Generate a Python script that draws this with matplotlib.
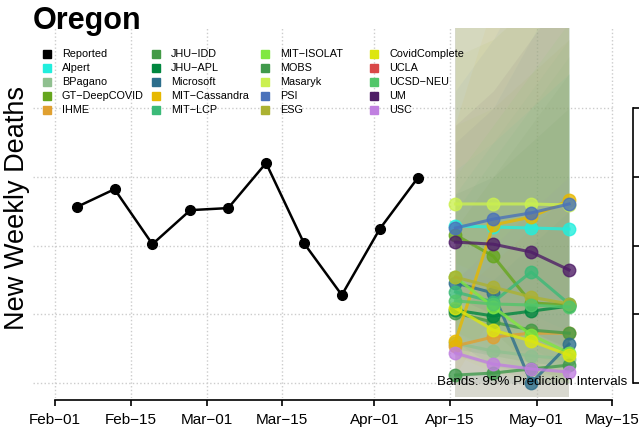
import numpy as np
import pandas as pd
import matplotlib
matplotlib.use('Agg')
import matplotlib.pyplot as plt
import matplotlib.dates as mdates
from matplotlib.lines import Line2D

plt.rcParams['font.family'] = ['Liberation Sans', 'DejaVu Sans']

# reported weekly deaths
rep_dates = pd.date_range('2022-02-05', periods=10, freq='7D')
rep_vals = [51.2, 56.4, 40.4, 50.3, 50.9, 64.0, 40.7, 25.6, 44.8, 59.6]

# forecasts
fc_dates = pd.date_range('2022-04-16', periods=4, freq='7D')
models = ['Alpert', 'BPagano', 'GT-DeepCOVID', 'IHME', 'JHU-IDD', 'JHU-APL',
          'Microsoft', 'MIT-Cassandra', 'MIT-LCP', 'MIT-ISOLAT', 'MOBS',
          'Masaryk', 'PSI', 'ESG', 'CovidComplete', 'UCLA', 'UCSD-NEU', 'UM', 'USC']
colors = ['#22EEDD', '#90C090', '#66A61E', '#E0A030', '#439A46', '#00873F',
          '#2C6E8C', '#E6B800', '#3BBA78', '#80E840', '#409A4C',
          '#CBF050', '#4A72BA', '#ACB232', '#DDE610', '#D94848', '#52C66A', '#4F1E67', '#C080E0']
fc_mid = [
    [45.7, 45.4, 45.1, 44.8],
    [11.6, 9.3, 7.9, 7.0],
    [43.1, 36.9, 23.3, 22.7],
    [10.8, 13.4, 14.5, 14.5],
    [20.4, 17.7, 15.4, 14.5],
    [21.2, 19.5, 20.9, 22.4],
    [29.1, 26.2, 0.0, 11.3],
    [12.2, 46.0, 48.3, 53.2],
    [26.5, 23.6, 32.3, 23.0],
    [30.8, 22.1, 14.0, 8.7],
    [2.3, 2.9, 4.1, 5.2],
    [52.1, 52.1, 52.1, 51.8],
    [45.1, 47.7, 49.5, 52.1],
    [30.8, 27.9, 25.0, 23.0],
    [21.8, 15.4, 12.2, 8.1],
    None,
    [23.9, 23.0, 22.7, 22.1],
    [41.0, 40.4, 38.1, 32.9],
    [8.7, 5.5, 4.1, 3.2],
]
fc_lo = [
    [30, 25, 20, 15], [2, 0, 0, 0], [25, 15, 5, 0], [3, 3, 2, 2],
    [8, 5, 3, 2], [10, 8, 6, 5], [12, 5, 0, 0], [2, 20, 20, 22],
    [12, 8, 10, 5], [15, 8, 3, 0], [0, 0, 0, 0], [35, 30, 25, 20],
    [30, 28, 25, 24], [15, 10, 8, 5], [8, 3, 0, 0], None,
    [10, 8, 6, 5], [25, 20, 15, 10], [0, 0, 0, 0],
]
fc_hi = [
    [62, 70, 80, 90], [30, 40, 50, 60], [95, 100, 110, 120], [25, 35, 45, 55],
    [45, 60, 75, 90], [55, 60, 70, 80], [70, 80, 100, 120], [75, 110, 130, 150],
    [55, 70, 85, 100], [60, 75, 90, 105], [20, 30, 40, 50], [115, 110, 125, 140],
    [85, 100, 120, 140], [75, 80, 90, 100], [120, 130, 150, 180], None,
    [50, 65, 80, 95], [75, 85, 100, 115], [30, 40, 50, 60],
]

xticks = pd.to_datetime(['2022-02-01', '2022-02-15', '2022-03-01', '2022-03-15',
                         '2022-04-01', '2022-04-15', '2022-05-01', '2022-05-15'])
yticks = [0, 20, 40, 60, 80]

W, H = 639, 437
fig = plt.figure(figsize=(W / 100, H / 100), dpi=100)
ax = fig.add_axes([33 / W, 1 - 398 / H, 581 / W, 370 / H])

# bands
ax.fill_between(fc_dates, -4, 110, color='#c4c4b4', alpha=0.5, lw=0, zorder=0.9)
for c, lo, hi in zip(colors, fc_lo, fc_hi):
    if lo is None:
        continue
    ax.fill_between(fc_dates, lo, hi, color=c, alpha=0.055, lw=0, zorder=1)
ax.fill_between(fc_dates, -4, 110, color='#9a9a8a', alpha=0.12, lw=0, zorder=1.1)

ax.plot(rep_dates, rep_vals, color='black', lw=1.8, marker='o', ms=7, zorder=5)

for c, m in zip(colors, fc_mid):
    if m is None:
        continue
    ax.plot(fc_dates, m, color=c, lw=2.2, marker='o', ms=9, alpha=0.8, zorder=4)

d0 = mdates.date2num(pd.Timestamp('2022-02-01'))
ax.set_xlim(d0 - 4.07, d0 + 103.3)
ax.set_ylim(-4.36, 103.3)

ax.set_xticks(xticks)
ax.xaxis.set_major_formatter(mdates.DateFormatter('%b\u2212%d'))
ax.set_yticks(yticks)
ax.grid(True, color='#cccccc', ls=':', lw=1)
ax.set_axisbelow(True)

for s in ['top', 'left']:
    ax.spines[s].set_visible(False)
ax.spines['bottom'].set_position(('outward', 1.5))
ax.spines['bottom'].set_bounds(mdates.date2num(xticks[0]), mdates.date2num(xticks[-1]))
ax.spines['bottom'].set_linewidth(1.2)
ax.spines['right'].set_position(('outward', 19 * 0.72))
ax.spines['right'].set_bounds(0, 80)
ax.spines['right'].set_linewidth(1.2)
ax.yaxis.tick_right()
ax.tick_params(axis='y', right=True, left=False, labelright=False, length=4, width=1.2)
ax.tick_params(axis='x', length=4, width=1.2, labelsize=11, pad=5)

ax.text((627 - 33) / 581, (398 - 385) / 370, 'Bands: 95% Prediction Intervals',
        transform=ax.transAxes, ha='right', va='baseline', fontsize=9.6, zorder=6)

fig.text(33 / W, 1 - 28.5 / H, 'Oregon', fontsize=22, fontweight='bold', va='baseline')
fig.text(17 / W, 1 - 208 / H, 'New Weekly Deaths', rotation=90, fontsize=19.5,
         ha='center', va='center')

# legend, drawn by hand in columns
leg_labels = ['Reported'] + models
leg_colors = ['black'] + colors
col_x = [47, 156, 265, 374]
row_y = [54, 68, 82, 96, 110]
for i, (lab, c) in enumerate(zip(leg_labels, leg_colors)):
    col, row = i // 5, i % 5
    x, y = col_x[col], row_y[row]
    fig.add_artist(Line2D([x / W], [1 - y / H], marker='s', ms=6, color=c,
                          ls='', transform=fig.transFigure))
    fig.text((x + 15) / W, 1 - y / H, lab.replace('-', '\u2212'), fontsize=7.8,
             va='center')

fig.savefig('out.png', dpi=100)
